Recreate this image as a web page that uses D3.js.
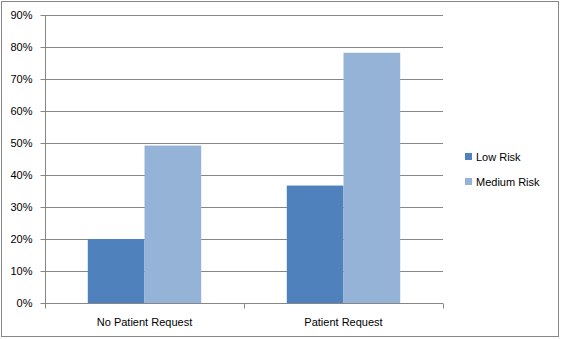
<!DOCTYPE html>
<html>
<head>
<meta charset="utf-8">
<script src="https://cdn.jsdelivr.net/npm/d3@7"></script>
<style>
  body { margin: 0; background: #fff; }
  text { font-family: "Liberation Sans", Arial, sans-serif; font-size: 11px; fill: #000; }
</style>
</head>
<body>
<script>
var categories = ["No Patient Request", "Patient Request"];
var seriesNames = ["Low Risk", "Medium Risk"];
var lowRisk = [0.20, 0.367];
var mediumRisk = [0.492, 0.782];
var yTicks = [0, 0.1, 0.2, 0.3, 0.4, 0.5, 0.6, 0.7, 0.8, 0.9];
var colors = ["#4F81BD", "#95B3D7"];

var W = 561, H = 339;
var margin = {top: 15, left: 45, right: 118, bottom: 36};
var width = W - margin.left - margin.right,
    height = H - margin.top - margin.bottom;

var svg = d3.select("body").append("svg")
    .attr("width", W)
    .attr("height", H);

// outer frame
svg.append("rect")
    .attr("x", 1.5).attr("y", 1.5)
    .attr("width", W - 4).attr("height", H - 4)
    .attr("fill", "#fff")
    .attr("stroke", "#868686");

var g = svg.append("g")
    .attr("transform", "translate(" + margin.left + "," + margin.top + ")");

var x0 = d3.scaleBand()
    .domain(categories)
    .range([0, width])
    .paddingInner(0.43)
    .paddingOuter(0.215);

var x1 = d3.scaleBand()
    .domain(seriesNames)
    .range([0, x0.bandwidth()]);

var y = d3.scaleLinear()
    .domain([0, 0.9])
    .range([height, 0]);

// gridlines
g.selectAll(".grid")
    .data(yTicks.slice(1))
  .enter().append("line")
    .attr("x1", 0).attr("x2", width)
    .attr("y1", function(d) { return Math.round(y(d)) + 0.5; })
    .attr("y2", function(d) { return Math.round(y(d)) + 0.5; })
    .attr("stroke", "#868686");

// bars
var rows = categories.map(function(c, i) {
  return {cat: c, vals: [lowRisk[i], mediumRisk[i]]};
});

g.selectAll(".grp")
    .data(rows)
  .enter().append("g")
    .attr("transform", function(d) { return "translate(" + x0(d.cat) + ",0)"; })
  .selectAll("rect")
    .data(function(d) { return d.vals.map(function(v, j) { return {s: seriesNames[j], v: v, j: j}; }); })
  .enter().append("rect")
    .attr("x", function(d) { return x1(d.s); })
    .attr("width", x1.bandwidth())
    .attr("y", function(d) { return y(d.v); })
    .attr("height", function(d) { return height - y(d.v); })
    .attr("fill", function(d) { return colors[d.j]; });

// y axis
var yAxis = g.append("g")
    .attr("transform", "translate(0.5,0)")
    .call(d3.axisLeft(y).tickValues(yTicks).tickFormat(d3.format(".0%")).tickSize(5).tickPadding(8));
yAxis.selectAll("line, path").attr("stroke", "#868686");
yAxis.select(".domain").attr("d", "M0," + height + "V0");
yAxis.selectAll("text").style("font-family", "Liberation Sans, Arial, sans-serif").style("font-size", "11px");

// x axis with ticks at category boundaries
var xAxisG = g.append("g")
    .attr("transform", "translate(0," + (Math.round(height) + 0.5) + ")");
xAxisG.append("line")
    .attr("x1", 0).attr("x2", width)
    .attr("stroke", "#868686");
var step = width / categories.length;
xAxisG.selectAll(".xt")
    .data(d3.range(categories.length + 1))
  .enter().append("line")
    .attr("x1", function(i) { return Math.round(i * step) + 0.5; })
    .attr("x2", function(i) { return Math.round(i * step) + 0.5; })
    .attr("y1", 0).attr("y2", 5)
    .attr("stroke", "#868686");
xAxisG.selectAll(".xl")
    .data(categories)
  .enter().append("text")
    .attr("x", function(d) { return x0(d) + x0.bandwidth() / 2; })
    .attr("y", 22)
    .attr("text-anchor", "middle")
    .text(function(d) { return d; });

// legend
var legend = svg.append("g")
    .attr("transform", "translate(465,153)");
var li = legend.selectAll(".li")
    .data(seriesNames)
  .enter().append("g")
    .attr("transform", function(d, i) { return "translate(0," + i * 25 + ")"; });
li.append("rect")
    .attr("width", 7).attr("height", 7)
    .attr("fill", function(d, i) { return colors[i]; });
li.append("text")
    .attr("x", 11).attr("y", 8)
    .text(function(d) { return d; });
</script>
</body>
</html>
